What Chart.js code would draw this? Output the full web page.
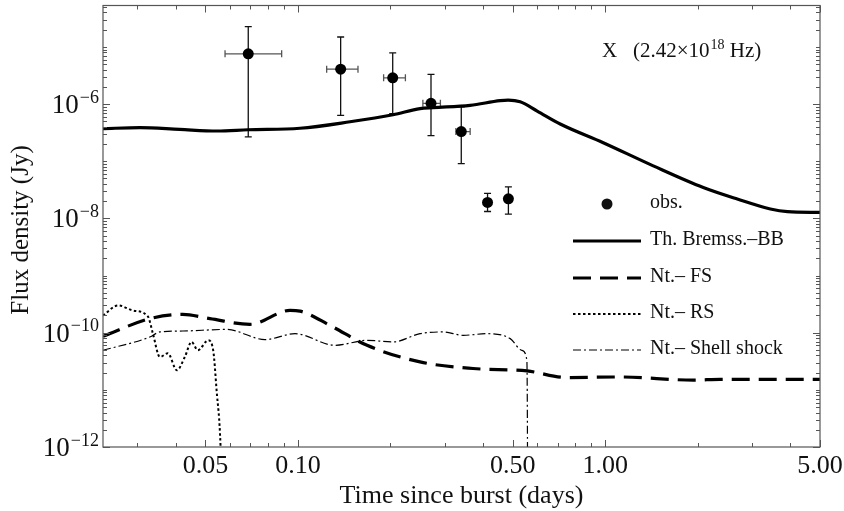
<!DOCTYPE html>
<html>
<head>
<meta charset="utf-8">
<script src="https://cdn.jsdelivr.net/npm/chart.js@4.4.1/dist/chart.umd.min.js"></script>
<style>
  html, body { margin: 0; padding: 0; background: #fff; }
  #wrap { width: 844px; height: 511px; }
</style>
</head>
<body>
<div id="wrap"><canvas id="chart" width="844" height="511"></canvas></div>
<script>
// observed points (days, Jy) with error ranges
const obsTime   = [0.0689, 0.1377, 0.2034, 0.271, 0.34, 0.414, 0.484];
const obsFlux   = [7.55e-6, 4.08e-6, 2.88e-6, 1.03e-6, 3.3e-7, 1.9e-8, 2.2e-8];
const obsTimeLo = [0.0579, 0.124, 0.190, 0.255, 0.3265, 0.414, 0.484];
const obsTimeHi = [0.0885, 0.1568, 0.2237, 0.2908, 0.3634, 0.414, 0.484];
const obsFluxLo = [2.66e-7, 6.35e-7, 6.78e-7, 2.8e-7, 9.1e-8, 1.32e-8, 1.19e-8];
const obsFluxHi = [2.27e-5, 1.49e-5, 7.85e-6, 3.3e-6, 8.9e-7, 2.73e-8, 3.57e-8];

// Th. Bremss.-BB
const thTime = [0.0232, 0.0306, 0.0412, 0.0545, 0.0688, 0.1015, 0.1477, 0.2039, 0.2496, 0.2752,
                0.3634, 0.455, 0.4831, 0.5286, 0.6006, 0.7136, 0.985, 1.433, 2.085, 2.69, 3.447, 3.917, 5.0];
const thFlux = [3.72e-7, 3.86e-7, 3.6e-7, 3.38e-7, 3.55e-7, 3.77e-7, 4.9e-7, 6.5e-7, 8.3e-7, 8.63e-7,
                9.5e-7, 1.15e-6, 1.175e-6, 1.096e-6, 7.55e-7, 4.48e-7, 2.11e-7, 8.3e-8, 3.47e-8, 2.18e-8, 1.46e-8, 1.31e-8, 1.27e-8];

// Nt.- FS
const fsTime = [0.0232, 0.03296, 0.0422, 0.0517, 0.0698, 0.0942, 0.1015, 0.1271, 0.1678, 0.2496,
                0.3715, 0.557, 0.752, 1.119, 1.935, 2.37, 5.0];
const fsFlux = [8.63e-11, 1.76e-10, 2.09e-10, 1.76e-10, 1.40e-10, 2.45e-10, 2.38e-10, 1.34e-10, 6.01e-11, 3.08e-11,
                2.36e-11, 2.14e-11, 1.64e-11, 1.68e-11, 1.48e-11, 1.53e-11, 1.53e-11];

// Nt.- RS
const rsTime = [0.0232, 0.026, 0.029, 0.03247, 0.03371, 0.03553, 0.03772, 0.04035, 0.04284, 0.04504,
                0.04723, 0.05103, 0.05298, 0.05434, 0.05599, 0.0566];
const rsFlux = [2.0e-10, 3.0e-10, 2.45e-10, 1.93e-10, 9.7e-11, 3.76e-11, 4.36e-11, 2.2e-11, 3.76e-11, 6.88e-11,
                4.92e-11, 7.35e-11, 4.92e-11, 9.9e-12, 1e-12, 1e-13];

// Nt.- Shell shock
const shTime = [0.0232, 0.03296, 0.03553, 0.0422, 0.0587, 0.0781, 0.0978, 0.132, 0.1678, 0.2039,
                0.2496, 0.2967, 0.3447, 0.4127, 0.4906, 0.5355, 0.5559, 0.5583, 0.559];
const shFlux = [4.92e-11, 8.4e-11, 1.03e-10, 1.07e-10, 1.14e-10, 7.57e-11, 9.6e-11, 6.01e-11, 7.35e-11, 6.88e-11,
                9.6e-11, 1.03e-10, 9.0e-11, 9.6e-11, 7.87e-11, 4.92e-11, 3.3e-11, 1.5e-12, 1e-13];

// axes
const xMin = 0.0232, xMax = 5.0;
const yMin = 1e-12, yMax = 5.3e-5;
const xTickVals = [0.05, 0.1, 0.5, 1, 5];
const xTickLabels = ['0.05', '0.10', '0.50', '1.00', '5.00'];
const xMinorVals = [0.03, 0.04, 0.06, 0.07, 0.08, 0.09, 0.2, 0.3, 0.4, 0.6, 0.7, 0.8, 0.9, 2, 3, 4];
const yTickExps = [-12, -10, -8, -6];

const legendLabels = ['obs.', 'Th. Bremss.\u2013BB', 'Nt.\u2013 FS', 'Nt.\u2013 RS', 'Nt.\u2013 Shell shock'];

const pairs = (xs, ys) => xs.map((x, i) => ({ x: x, y: ys[i] }));

const SERIF = '"Liberation Serif", "DejaVu Serif", serif';

// 10 with a raised exponent, right edge at xr
function drawPow(ctx, base, exp, x, y, size, supSize, align) {
    ctx.font = size + 'px ' + SERIF;
    const wb = ctx.measureText(base).width;
    ctx.font = supSize + 'px ' + SERIF;
    const we = ctx.measureText(exp).width;
    let x0 = align === 'right' ? x - wb - we - 1 : x;
    ctx.textAlign = 'left';
    ctx.textBaseline = 'alphabetic';
    ctx.font = size + 'px ' + SERIF;
    ctx.fillText(base, x0, y);
    ctx.font = supSize + 'px ' + SERIF;
    ctx.fillText(exp, x0 + wb + 1, y - size * 0.38);
    return x0 + wb + 1 + we;
}

const decor = {
    id: 'decor',
    beforeDatasetsDraw(chart) {
        const ctx = chart.ctx;
        const xs = chart.scales.x, ys = chart.scales.y;
        ctx.save();
        ctx.lineWidth = 1.3;
        const cap = 3.5;
        obsTime.forEach((t, i) => {
            const px = xs.getPixelForValue(t), py = ys.getPixelForValue(obsFlux[i]);
            const top = ys.getPixelForValue(obsFluxHi[i]), bot = ys.getPixelForValue(obsFluxLo[i]);
            ctx.strokeStyle = '#111';
            ctx.beginPath();
            ctx.moveTo(px, top); ctx.lineTo(px, bot);
            ctx.moveTo(px - cap, top); ctx.lineTo(px + cap, top);
            ctx.moveTo(px - cap, bot); ctx.lineTo(px + cap, bot);
            ctx.stroke();
            if (obsTimeHi[i] > obsTimeLo[i]) {
                const l = xs.getPixelForValue(obsTimeLo[i]), r = xs.getPixelForValue(obsTimeHi[i]);
                ctx.strokeStyle = '#555';
                ctx.beginPath();
                ctx.moveTo(l, py); ctx.lineTo(r, py);
                ctx.moveTo(l, py - cap); ctx.lineTo(l, py + cap);
                ctx.moveTo(r, py - cap); ctx.lineTo(r, py + cap);
                ctx.stroke();
            }
        });
        ctx.restore();
    },
    afterDraw(chart) {
        const ctx = chart.ctx;
        const a = chart.chartArea;
        const xs = chart.scales.x, ys = chart.scales.y;
        ctx.save();

        // frame
        ctx.strokeStyle = '#555';
        ctx.lineWidth = 1.2;
        ctx.strokeRect(a.left, a.top, a.right - a.left, a.bottom - a.top);

        // x ticks, inward on bottom and top
        ctx.lineWidth = 1;
        ctx.beginPath();
        xTickVals.forEach(v => {
            const p = Math.round(xs.getPixelForValue(v)) + 0.5;
            ctx.moveTo(p, a.bottom); ctx.lineTo(p, a.bottom - 7);
            ctx.moveTo(p, a.top); ctx.lineTo(p, a.top + 7);
        });
        xMinorVals.forEach(v => {
            const p = Math.round(xs.getPixelForValue(v)) + 0.5;
            ctx.moveTo(p, a.bottom); ctx.lineTo(p, a.bottom - 4);
            ctx.moveTo(p, a.top); ctx.lineTo(p, a.top + 4);
        });
        // y ticks, inward on left and right
        for (let e = -12; e <= -5; e++) {
            for (let k = 1; k <= 9; k++) {
                const v = k * Math.pow(10, e);
                if (v > yMax) continue;
                const major = k === 1 && yTickExps.includes(e);
                const len = major ? 7 : 4;
                const p = Math.round(ys.getPixelForValue(v)) + 0.5;
                ctx.moveTo(a.left, p); ctx.lineTo(a.left + len, p);
                ctx.moveTo(a.right, p); ctx.lineTo(a.right - len, p);
            }
        }
        ctx.stroke();

        ctx.fillStyle = '#111';
        // x tick labels
        ctx.font = '26px ' + SERIF;
        ctx.textAlign = 'center';
        ctx.textBaseline = 'alphabetic';
        xTickVals.forEach((v, i) => {
            ctx.fillText(xTickLabels[i], xs.getPixelForValue(v), a.bottom + 26);
        });
        // y tick labels
        yTickExps.forEach(e => {
            const p = ys.getPixelForValue(Math.pow(10, e));
            drawPow(ctx, '10', '\u2212' + Math.abs(e), a.left - 4, p + 9, 27, 18, 'right');
        });

        // axis titles
        ctx.font = '26px ' + SERIF;
        ctx.textAlign = 'center';
        ctx.fillText('Time since burst (days)', (a.left + a.right) / 2, 503);
        ctx.save();
        ctx.translate(28, 230);
        ctx.rotate(-Math.PI / 2);
        ctx.font = '25px ' + SERIF;
        ctx.fillText('Flux density (Jy)', 0, 0);
        ctx.restore();

        // band annotation
        ctx.font = '21px ' + SERIF;
        ctx.textAlign = 'left';
        ctx.fillText('X', 602, 57);
        ctx.fillText('(2.42\u00d7', 633, 57);
        let xe = 633 + ctx.measureText('(2.42\u00d7').width;
        xe = drawPow(ctx, '10', '18', xe, 57, 21, 14, 'left');
        ctx.font = '21px ' + SERIF;
        ctx.fillText(' Hz)', xe, 57);

        // legend
        const rows = [204, 241, 278, 314, 350];
        const x0 = 573, x1 = 641, tx = 650;
        ctx.beginPath();
        ctx.arc((x0 + x1) / 2 - 0, rows[0], 5.5, 0, Math.PI * 2);
        ctx.fill();
        const ds = chart.data.datasets;
        for (let i = 1; i < 5; i++) {
            const d = ds[i];
            ctx.strokeStyle = '#000';
            ctx.lineWidth = d.borderWidth;
            ctx.setLineDash(d.borderDash || []);
            ctx.beginPath();
            ctx.moveTo(x0, rows[i]); ctx.lineTo(x1, rows[i]);
            ctx.stroke();
        }
        ctx.setLineDash([]);
        ctx.font = '20px ' + SERIF;
        ctx.textBaseline = 'middle';
        legendLabels.forEach((s, i) => ctx.fillText(s, tx, rows[i] - 1));

        ctx.restore();
    }
};

const lineBase = {
    showLine: true,
    pointRadius: 0,
    borderColor: '#000',
    backgroundColor: '#000',
    fill: false,
    cubicInterpolationMode: 'monotone',
    borderCapStyle: 'butt'
};

new Chart(document.getElementById('chart'), {
    type: 'scatter',
    data: {
        datasets: [
            { label: 'obs.', data: pairs(obsTime, obsFlux), pointRadius: 5.5, pointBackgroundColor: '#000',
              pointBorderColor: '#000', pointBorderWidth: 0, showLine: false, order: 0 },
            Object.assign({ label: 'Th. Bremss.-BB', data: pairs(thTime, thFlux), borderWidth: 3.2, order: 1 }, lineBase),
            Object.assign({ label: 'Nt.- FS', data: pairs(fsTime, fsFlux), borderWidth: 3.2, borderDash: [18, 9], order: 2 }, lineBase),
            Object.assign({ label: 'Nt.- RS', data: pairs(rsTime, rsFlux), borderWidth: 2, borderDash: [2.5, 2.5], order: 3 }, lineBase),
            Object.assign({ label: 'Nt.- Shell shock', data: pairs(shTime, shFlux), borderWidth: 1.2, borderDash: [8, 3, 2, 3], order: 4 }, lineBase)
        ]
    },
    options: {
        responsive: false,
        animation: false,
        layout: { padding: { left: 103, right: 24, top: 4, bottom: 64 } },
        plugins: { legend: { display: false }, tooltip: { enabled: false } },
        scales: {
            x: { type: 'logarithmic', min: xMin, max: xMax, display: false },
            y: { type: 'logarithmic', min: yMin, max: yMax, display: false }
        }
    },
    plugins: [decor]
});
</script>
</body>
</html>
